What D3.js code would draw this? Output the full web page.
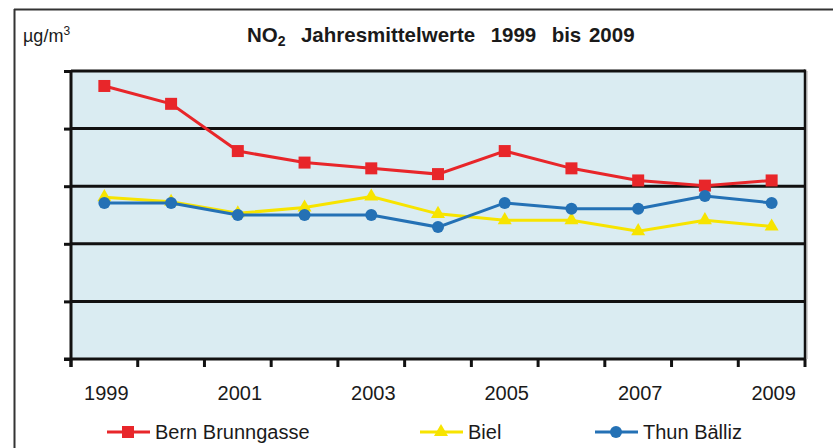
<!DOCTYPE html>
<html>
<head>
<meta charset="utf-8">
<script src="https://cdn.jsdelivr.net/npm/d3@7"></script>
<style>
  body { margin: 0; background: #fff; }
  text { font-family: "Liberation Sans", Arial, sans-serif; fill: #1a1a1a; }
  .title { white-space: pre; }
</style>
</head>
<body>
<div id="chart"></div>
<script>
// Chart Data
const years = [1999, 2000, 2001, 2002, 2003, 2004, 2005, 2006, 2007, 2008, 2009];
const bernValues = [47.4, 44.3, 36.1, 34.1, 33.1, 32.1, 36.1, 33.1, 31.0, 30.1, 31.0];
const bielValues = [28.1, 27.3, 25.3, 26.3, 28.2, 25.2, 24.1, 24.1, 22.2, 24.1, 23.0];
const thunValues = [27.1, 27.1, 25.0, 25.0, 25.0, 22.9, 27.1, 26.1, 26.1, 28.3, 27.1];
const seriesNames = ["Bern Brunngasse", "Biel", "Thun Bälliz"];
const yTicks = [0, 10, 20, 30, 40, 50];
const labelYears = [1999, 2001, 2003, 2005, 2007, 2009];

// Dimensions
const w = 833, h = 448;
const plot = { left: 71, right: 805, top: 71, bottom: 359 };

const svg = d3.select("#chart").append("svg").attr("width", w).attr("height", h);

// Outer Frame
svg.append("line").attr("x1", 14).attr("x2", w).attr("y1", 9.5).attr("y2", 9.5).attr("stroke", "#333").attr("stroke-width", 2);
svg.append("line").attr("x1", 14.5).attr("x2", 14.5).attr("y1", 9).attr("y2", h).attr("stroke", "#333").attr("stroke-width", 2);

// Scales
let x = d3.scaleBand().domain(years).range([plot.left, plot.right]);
let y = d3.scaleLinear().domain([0, 50]).range([plot.bottom, plot.top]);

// Plot Background
svg.append("rect").attr("x", plot.left).attr("y", plot.top)
  .attr("width", plot.right - plot.left).attr("height", plot.bottom - plot.top)
  .attr("fill", "#daecf2");
svg.append("line").attr("x1", plot.right + 2).attr("x2", plot.right + 2).attr("y1", plot.top).attr("y2", plot.bottom)
  .attr("stroke", "#aaa").attr("stroke-width", 1);

// Grid Lines
svg.selectAll(".grid").data(yTicks.slice(1)).enter().append("line")
  .attr("x1", plot.left).attr("x2", plot.right)
  .attr("y1", d => y(d)).attr("y2", d => y(d))
  .attr("stroke", "#111").attr("stroke-width", 3);
svg.append("line").attr("x1", plot.right).attr("x2", plot.right).attr("y1", plot.top - 1.5).attr("y2", plot.bottom)
  .attr("stroke", "#111").attr("stroke-width", 2.5);

// Y Axis (ticks, no labels)
let yAxis = d3.axisLeft(y).tickValues(yTicks).tickSize(7).tickFormat("");
let gy = svg.append("g").attr("transform", `translate(${plot.left},0)`).call(yAxis);
gy.select(".domain").attr("stroke", "#111").attr("stroke-width", 3).attr("d", `M0,${plot.top - 1}V${plot.bottom + 8}`);
gy.selectAll(".tick line").attr("stroke", "#111").attr("stroke-width", 3);

// X Axis
let xEdges = years.map(d => x(d)).concat([plot.right]);
svg.append("line").attr("x1", plot.left - 7).attr("x2", plot.right).attr("y1", plot.bottom).attr("y2", plot.bottom)
  .attr("stroke", "#111").attr("stroke-width", 3);
svg.selectAll(".xtick").data(xEdges).enter().append("line")
  .attr("x1", d => d).attr("x2", d => d).attr("y1", plot.bottom).attr("y2", plot.bottom + 8)
  .attr("stroke", "#111").attr("stroke-width", 3);
svg.selectAll(".xlabel").data(labelYears).enter().append("text")
  .attr("x", d => x(d) + x.bandwidth() / 2 + 2).attr("y", 400)
  .attr("text-anchor", "middle").attr("font-size", 20).text(d => d);

// Titles
let title = svg.append("text").classed("title", true).attr("x", 247).attr("y", 42)
  .attr("font-size", 20.5).attr("font-weight", "bold").attr("word-spacing", 2);
title.append("tspan").text("NO");
title.append("tspan").attr("font-size", 14).attr("dy", 4).text("2");
title.append("tspan").attr("dy", -4).text("  Jahresmittelwerte  1999  bis 2009");
let unit = svg.append("text").attr("x", 23).attr("y", 42).attr("font-size", 18);
unit.append("tspan").text("µg/m");
unit.append("tspan").attr("font-size", 12).attr("dy", -7).text("3");

// Series
const series = [
  { name: seriesNames[0], values: bernValues, color: "#e8262a", marker: "square" },
  { name: seriesNames[1], values: bielValues, color: "#f7e400", marker: "triangle" },
  { name: seriesNames[2], values: thunValues, color: "#2471b5", marker: "circle" }
];
const cx = d => x(d) + x.bandwidth() / 2;

function drawMarker(g, type, color, px, py) {
  if (type == "square") g.append("rect").attr("x", px - 6).attr("y", py - 6).attr("width", 12).attr("height", 12).attr("fill", color);
  else if (type == "circle") g.append("circle").attr("cx", px).attr("cy", py).attr("r", 6).attr("fill", color);
  else g.append("path").attr("d", d3.symbol().type(d3.symbolTriangle).size(85)()).attr("transform", `translate(${px},${py})`).attr("fill", color);
}

let line = d3.line().x((d, i) => cx(years[i])).y(d => y(d));
series.forEach(s => {
  let g = svg.append("g");
  g.append("path").datum(s.values).attr("d", line).attr("fill", "none").attr("stroke", s.color).attr("stroke-width", 3);
  s.values.forEach((v, i) => drawMarker(g, s.marker, s.color, cx(years[i]), y(v)));
});

// Legend
const legendX = [107, 420, 595];
series.forEach((s, i) => {
  let g = svg.append("g");
  g.append("line").attr("x1", legendX[i]).attr("x2", legendX[i] + 43).attr("y1", 432).attr("y2", 432)
    .attr("stroke", s.color).attr("stroke-width", 3);
  drawMarker(g, s.marker, s.color, legendX[i] + 21, 432);
  g.append("text").attr("x", legendX[i] + 48).attr("y", 439).attr("font-size", 20).text(s.name);
});
</script>
</body>
</html>
